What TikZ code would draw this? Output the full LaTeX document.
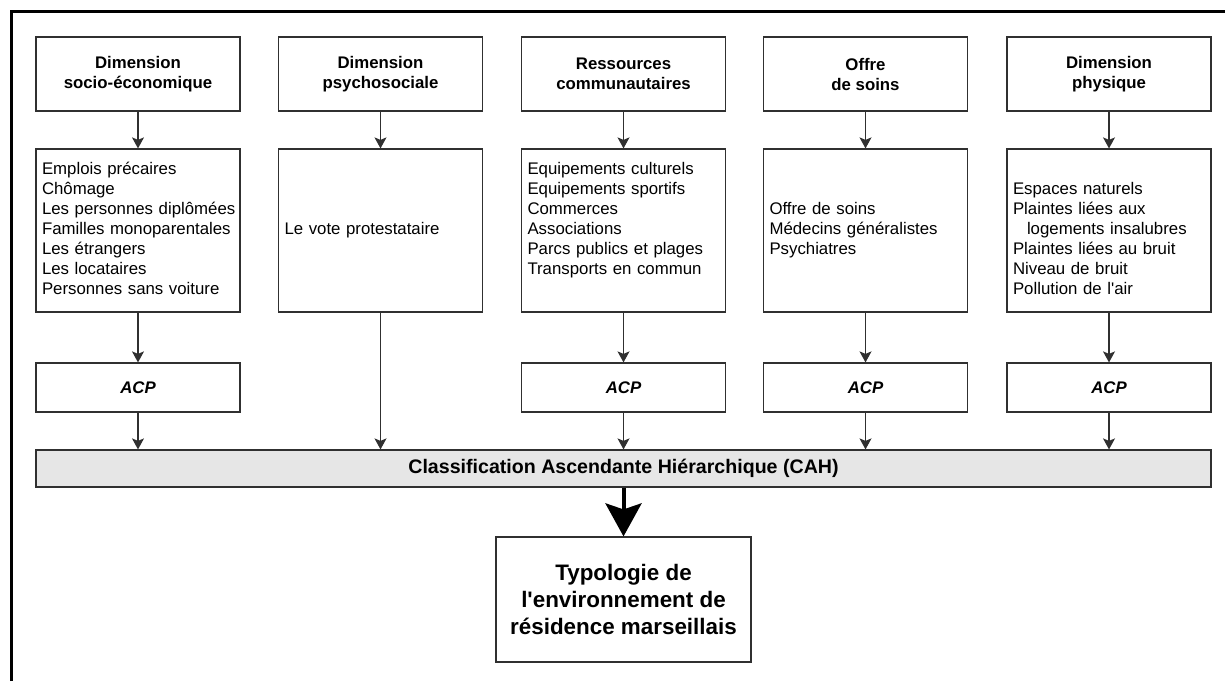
\documentclass[tikz,border=0pt]{standalone}
\usepackage{fontspec}
\setmainfont{Liberation Sans}[Ligatures=TeXOff]
\usetikzlibrary{arrows.meta}
\definecolor{cahgray}{HTML}{E6E6E6}
\definecolor{edge}{HTML}{303030}
\begin{document}
\begin{tikzpicture}[x=1pt,y=-1pt,
 box/.style={draw=edge,line width=1.2pt,fill=white,minimum width=204pt,inner sep=0pt,font=\fontsize{16.8}{20}\selectfont},
 head/.style={box,minimum height=74pt,align=center,font=\fontsize{16.8}{20}\selectfont\bfseries},
 listbox/.style={box,minimum height=163pt,text width=192pt,align=left,inner xsep=6pt},
 acp/.style={box,minimum height=49pt,font=\fontsize{16.8}{20}\selectfont\bfseries\itshape},
 arr/.style={draw=edge,line width=1.2pt,-{Stealth[length=11pt,width=12pt,inset=2.5pt]}},
 bigarr/.style={draw=black,line width=4pt,-{Stealth[length=33pt,width=36pt,inset=6pt]}},
]
\useasboundingbox (0,0) rectangle (1225,681);
\draw[line width=3pt,black] (11,681) -- (11,11) -- (1225,11);

% headers
\node[head] (h1) at (138,74) {Dimension\\socio-économique};
\node[head] (h2) at (380.5,74) {Dimension\\psychosociale};
\node[head] (h3) at (623.5,74) {Ressources\\communautaires};
\node[head] (h4) at (865.5,74) {Offre\\de soins};
\node[head] (h5) at (1109,74) {Dimension\\physique};

% lists
\node[listbox] (l1) at (138,230.5) {\strut Emplois précaires\\Chômage\\\mbox{Les personnes diplômées}\\\mbox{Familles monoparentales}\\Les étrangers\\Les locataires\\\mbox{Personnes sans voiture}\strut};
\node[listbox] (l2) at (380.5,230.5) {\strut Le vote protestataire\strut};
\node[listbox] (l3) at (623.5,230.5) {\strut Equipements culturels\\Equipements sportifs\\Commerces\\Associations\\\mbox{Parcs publics et plages}\\\mbox{Transports en commun}\\\strut};
\node[listbox] (l4) at (865.5,230.5) {\strut Offre de soins\\Médecins généralistes\\Psychiatres\strut};
\node[listbox] (l5) at (1109,230.5) {\strut\\Espaces naturels\\Plaintes liées aux\\\hspace*{14pt}\mbox{logements insalubres}\\\mbox{Plaintes liées au bruit}\\Niveau de bruit\\Pollution de l'air\strut};

% ACP
\node[acp] (a1) at (138,387.5) {ACP};
\node[acp] (a3) at (623.5,387.5) {ACP};
\node[acp] (a4) at (865.5,387.5) {ACP};
\node[acp] (a5) at (1109,387.5) {ACP};

% CAH
\node[draw=edge,line width=1.2pt,fill=cahgray,minimum width=1175pt,minimum height=37pt,inner sep=0pt,font=\fontsize{19.6}{24}\selectfont\bfseries] (cah) at (623.5,468.5) {Classification Ascendante Hiérarchique (CAH)};

% typology
\node[draw=edge,line width=1.2pt,fill=white,minimum width=255pt,minimum height=125pt,inner sep=0pt,align=center,font=\fontsize{22.4}{26.7}\selectfont\bfseries] (typo) at (623.5,599.5) {Typologie de\\l'environnement de\\résidence marseillais};

% arrows
\foreach \i in {1,2,3,4,5} {\draw[arr] (h\i) -- (l\i);}
\foreach \i in {1,3,4,5} {\draw[arr] (l\i) -- (a\i); \draw[arr] (a\i) -- (a\i |- cah.north);}
\draw[arr] (l2) -- (l2 |- cah.north);
\draw[bigarr] (cah.south -| typo.north) -- (typo.north);
\end{tikzpicture}
\end{document}
